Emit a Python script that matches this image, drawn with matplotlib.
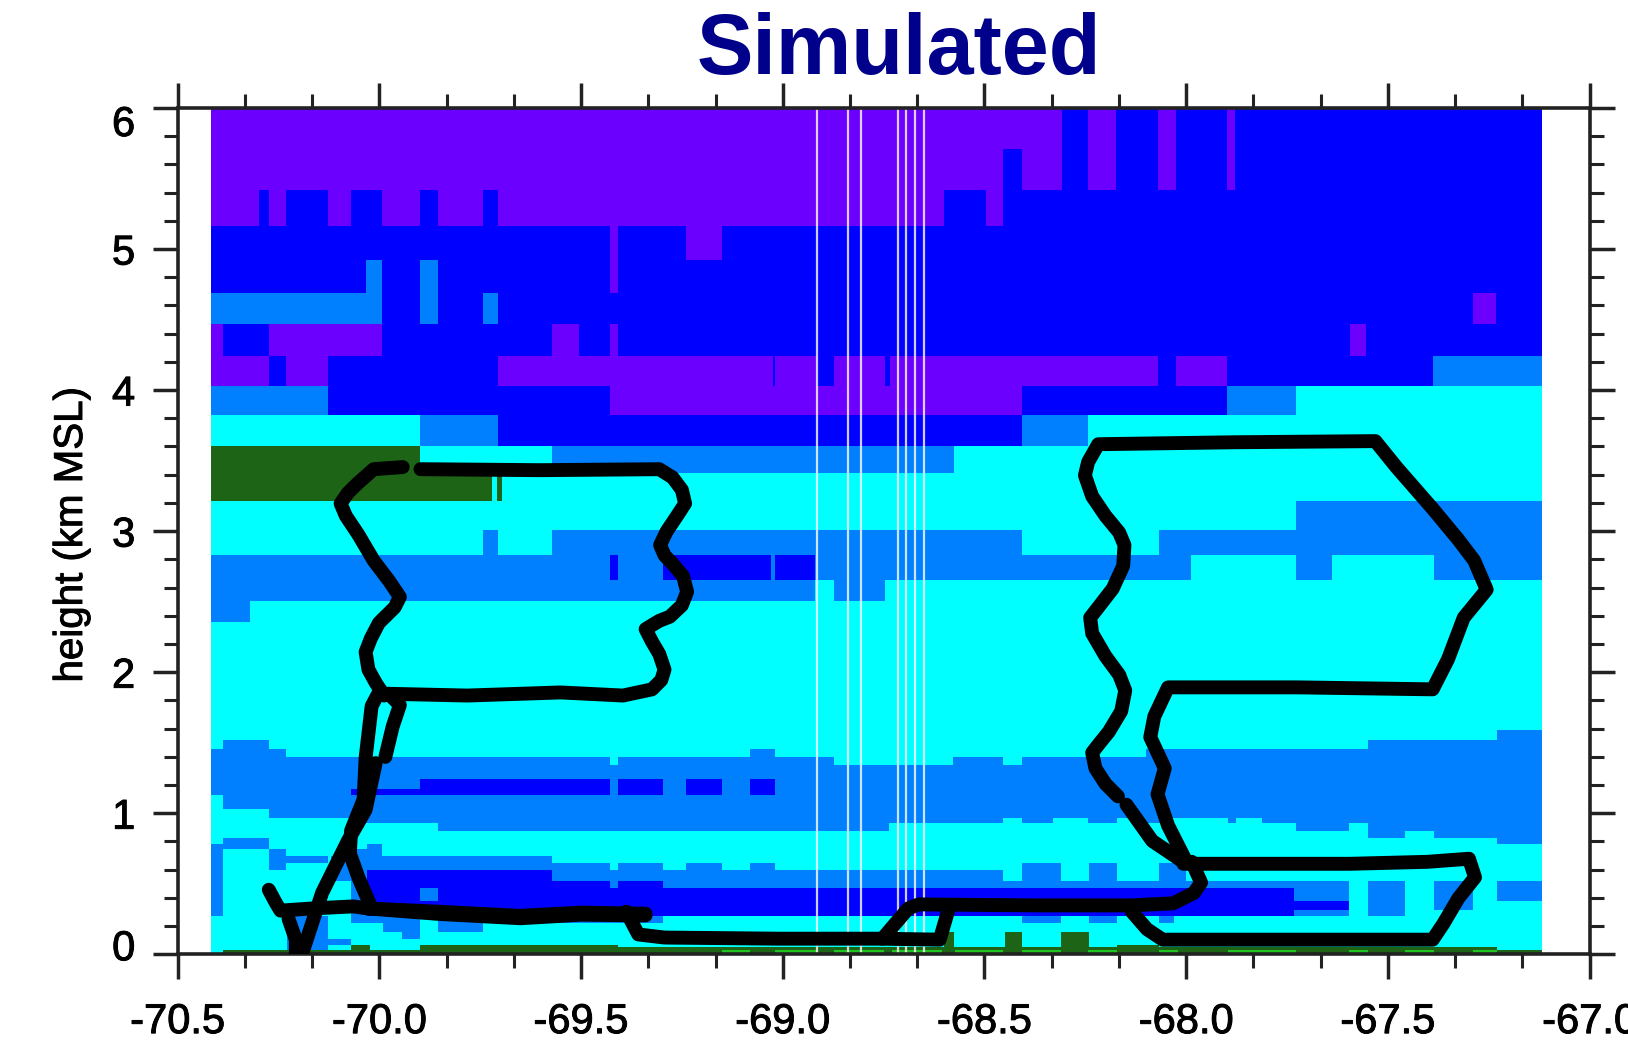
import matplotlib
matplotlib.use("Agg")
import matplotlib.pyplot as plt
import matplotlib.patheffects as pe
from matplotlib.transforms import ScaledTranslation
import numpy as np
from matplotlib.colors import ListedColormap, BoundaryNorm
from matplotlib.ticker import MultipleLocator

# Echo classes of the simulated field
C, A, B, V, G, L = 0, 1, 2, 3, 4, 5
class_colors = ["#00FFFF", "#0080FF", "#0000FF", "#6C00FF", "#1E6416", "#1FC41F"]

lon_start = -70.418
E = -67.119

# Lower edge (km) of each horizontal band, top band first. Top of first band is 6.
band_bottoms = [5.71, 5.42, 5.16, 4.92, 4.69, 4.47, 4.24, 4.03, 3.82, 3.60, 3.41, 3.21,
                3.01, 2.83, 2.655, 2.507, 2.359, 1.59, 1.519, 1.458, 1.398, 1.339, 1.239, 1.172,
                1.129, 1.03, 0.969, 0.927, 0.874, 0.827, 0.784, 0.743, 0.696, 0.647, 0.60, 0.517,
                0.469, 0.374, 0.313, 0.27, 0.22, 0.16, 0.11, 0.065, 0.05, 0.03, 0.012, 0.0]

# For each band: (class, longitude where this class stops), west to east
band_runs = [
    [(V,-68.309),(B,-68.243),(V,-68.173),(B,-68.069),(V,-68.024),(B,-67.9),(V,-67.88),(B,E)],
    [(V,-68.453),(B,-68.407),(V,-68.309),(B,-68.243),(V,-68.173),(B,-68.069),(V,-68.024),(B,-67.9),(V,-67.88),(B,E)],
    [(V,-70.299),(B,-70.273),(V,-70.231),(B,-70.126),(V,-70.069),(B,-69.993),(V,-69.899),(B,-69.855),(V,-69.742),(B,-69.707),(V,-68.6),(B,-68.496),(V,-68.453),(B,E)],
    [(B,-69.427),(V,-69.408),(B,-69.241),(V,-69.15),(B,E)],
    [(B,-70.034),(A,-69.993),(B,-69.899),(A,-69.855),(B,-69.427),(V,-69.408),(B,E)],
    [(A,-69.993),(B,-69.899),(A,-69.855),(B,-69.742),(A,-69.707),(B,-67.29),(V,-67.231),(B,E)],
    [(V,-70.387),(B,-70.273),(V,-69.993),(B,-69.573),(V,-69.505),(B,-69.427),(V,-69.408),(B,-67.594),(V,-67.554),(B,E)],
    [(V,-70.273),(B,-70.231),(V,-70.126),(B,-69.707),(V,-69.025),(B,-69.018),(V,-68.916),(B,-68.874),(V,-68.746),(B,-68.733),(V,-68.069),(B,-68.024),(V,-67.9),(B,-67.387),(A,E)],
    [(A,-70.126),(B,-69.427),(V,-68.407),(B,-67.9),(A,-67.728),(C,E)],
    [(C,-69.899),(A,-69.707),(B,-68.407),(A,-68.243),(C,E)],
    [(G,-69.899),(C,-69.573),(A,-68.576),(C,E)],
    [(G,-69.72),(C,-69.708),(G,-69.696),(C,E)],
    [(C,-67.728),(A,E)],
    [(C,-69.742),(A,-69.707),(C,-69.573),(A,-68.408),(C,-68.067),(A,E)],
    [(A,-69.427),(B,-69.408),(A,-69.296),(B,-69.028),(A,-69.018),(B,-68.919),(A,-67.989),(C,-67.727),(A,-67.638),(C,-67.386),(A,E)],
    [(A,-68.919),(C,-68.874),(A,-68.746),(C,E)],
    [(A,-70.32),(C,E)],
    [(C,E)],
    [(C,-67.229),(A,E)],
    [(C,-70.387),(A,-70.273),(C,-67.55),(A,E)],
    [(A,-70.231),(C,-69.082),(A,-69.018),(C,-68.1),(A,E)],
    [(A,-69.427),(C,-69.408),(A,-68.874),(C,-68.579),(A,-68.454),(C,-68.408),(A,E)],
    [(A,E)],
    [(A,-69.899),(B,-69.427),(A,-69.408),(B,-69.296),(A,-69.239),(B,-69.15),(A,-69.082),(B,-69.018),(A,E)],
    [(A,-70.069),(B,-69.427),(A,-69.408),(B,-69.296),(A,-69.239),(B,-69.15),(A,-69.082),(B,-69.018),(A,E)],
    [(C,-70.387),(A,E)],
    [(C,-70.273),(A,E)],
    [(C,-70.04),(A,-68.454),(C,-68.408),(A,-68.33),(C,-68.244),(A,-68.172),(C,-68.12),(A,-68.041),(C,-67.897),(A,-67.877),(C,-67.812),(A,E)],
    [(C,-69.855),(A,-68.736),(C,-67.727),(A,-67.596),(C,-67.55),(A,E)],
    [(C,-67.55),(A,-67.458),(C,-67.386),(A,E)],
    [(C,-70.387),(A,-70.273),(C,-67.229),(A,E)],
    [(A,-70.273),(C,-70.03),(A,-69.993),(C,E)],
    [(A,-70.387),(C,-70.273),(A,-70.231),(C,-70.08),(A,-69.993),(C,E)],
    [(A,-70.387),(C,-70.273),(A,-70.126),(C,-70.12),(A,-69.573),(C,E)],
    [(A,-70.387),(C,-70.273),(A,-70.231),(C,-70.12),(A,-69.427),(C,-69.408),(A,-69.296),(C,-69.239),(A,-69.15),(C,-69.082),(A,-69.018),(C,-68.408),(A,-68.31),(C,-68.24),(A,-68.172),(C,-68.067),(A,-68.015),(C,E)],
    [(A,-70.387),(C,-70.12),(A,-70.03),(B,-69.573),(A,-68.454),(C,-68.408),(A,-68.31),(C,-68.24),(A,-68.172),(C,-68.067),(A,-68.0),(C,E)],
    [(A,-70.387),(C,-70.07),(A,-70.03),(B,-69.427),(A,-69.408),(B,-69.296),(A,-67.596),(C,-67.55),(A,-67.458),(C,-67.386),(A,-67.288),(C,-67.229),(A,E)],
    [(A,-70.387),(C,-70.069),(A,-70.03),(B,-69.899),(A,-69.855),(B,-67.733),(A,-67.596),(C,-67.55),(A,-67.458),(C,-67.386),(A,-67.288),(C,-67.229),(A,E)],
    [(A,-70.387),(C,-70.069),(A,-70.03),(B,-67.596),(C,-67.55),(A,-67.458),(C,-67.386),(A,-67.288),(C,E)],
    [(A,-70.387),(C,-70.069),(A,-70.03),(B,-67.733),(A,-67.596),(C,-67.55),(A,-67.458),(C,E)],
    [(C,-70.23),(A,-70.126),(C,-70.069),(A,-69.899),(C,-69.855),(A,-69.742),(C,-69.707),(A,-69.296),(C,-68.408),(A,-68.31),(C,-68.24),(A,-68.172),(C,-68.067),(A,-68.03),(C,E)],
    [(C,-70.23),(A,-70.126),(C,-69.99),(A,-69.899),(C,-69.855),(A,-69.742),(C,E)],
    [(C,-70.23),(A,-70.126),(C,-69.945),(A,-69.899),(C,-68.6),(G,-68.575),(C,-68.45),(G,-68.408),(C,-68.31),(G,-68.24),(C,E)],
    [(C,-70.23),(A,-70.07),(C,-68.6),(G,-68.575),(C,-68.45),(G,-68.408),(C,-68.31),(G,-68.24),(C,E)],
    [(C,-70.23),(A,-70.126),(C,-70.069),(G,-70.022),(C,-69.899),(G,-69.408),(C,-68.6),(G,-68.575),(C,-68.45),(G,-68.408),(C,-68.31),(G,-68.24),(C,-68.172),(G,-68.067),(C,E)],
    [(C,-70.23),(A,-70.126),(C,-70.069),(G,-70.022),(C,-69.899),(G,-67.229),(C,E)],
    [(C,-70.387),(G,-69.15),(L,-69.082),(G,-69.018),(L,-68.916),(G,-68.874),(L,-68.749),(G,-68.729),(L,-68.605),(G,-68.572),(L,-68.454),(G,-68.408),(L,-68.31),(G,-68.244),(L,-68.172),(G,-68.067),(L,-68.02),(G,-67.897),(L,-67.727),(G,-67.596),(L,-67.55),(G,-67.458),(L,-67.386),(G,-67.288),(L,-67.229),(G,E)],
    [(C,-70.387),(G,E)],
]

# Columns with no data, they show as thin white lines
missing_lons = [-68.915, -68.838, -68.807, -68.714, -68.694, -68.673, -68.65]

# Flight track pieces (lon, height km)
track_low_left = [(-70.274,0.457),(-70.256,0.361),(-70.245,0.309),(-70.168,0.324),(-70.065,0.339),(-70.027,0.324),
                  (-69.859,0.302),(-69.653,0.272),(-69.499,0.295),(-69.34,0.287)]
track_low_left2 = [(-70.03,0.325),(-69.85,0.285),(-69.65,0.255),(-69.5,0.28),(-69.34,0.275)]
track_leg_up = [(-70.021,0.339),(-70.052,0.545),(-70.073,0.714),(-70.07,0.876),(-70.039,1.097),(-70.034,1.392),
                (-70.019,1.76),(-70.001,1.856)]
track_climb = [(-70.225,0.25),(-70.207,0.103),(-70.207,0.007),(-70.191,0.007),(-70.142,0.434),(-70.078,0.803),
               (-70.034,1.024),(-70.009,1.355)]
track_climb2 = [(-69.985,1.399),(-69.967,1.613),(-69.949,1.767),(-69.975,1.841)]
track_west_box = [(-70.001,1.848),(-69.782,1.834),(-69.551,1.856),(-69.396,1.834),(-69.324,1.878),(-69.301,1.944),
                  (-69.293,2.018),(-69.306,2.128),(-69.324,2.216),(-69.34,2.305),(-69.306,2.364),(-69.28,2.393),
                  (-69.25,2.474),(-69.237,2.57),(-69.247,2.68),(-69.273,2.769),(-69.293,2.828),(-69.304,2.901),
                  (-69.288,2.997),(-69.262,3.108),(-69.242,3.196),(-69.25,3.292),(-69.273,3.38),(-69.306,3.439),
                  (-69.602,3.432),(-69.898,3.439)]
track_west_box2 = [(-69.942,3.454),(-70.014,3.439),(-70.052,3.343),(-70.078,3.27),(-70.096,3.196),(-70.083,3.108),
                   (-70.052,2.975),(-70.014,2.791),(-69.975,2.644),(-69.949,2.533),(-69.962,2.459),(-70.001,2.349),
                   (-70.021,2.239),(-70.034,2.143),(-70.027,2.018),(-70.008,1.92),(-69.988,1.834)]
track_middle = [(-69.388,0.302),(-69.358,0.14),(-69.293,0.118),(-69.01,0.11),(-68.753,0.11),(-68.689,0.324),
                (-68.663,0.353),(-68.367,0.346),(-68.135,0.346),(-68.032,0.361),(-67.981,0.434),(-67.963,0.508),
                (-67.986,0.655)]
track_spur = [(-68.753,0.11),(-68.611,0.103),(-68.586,0.346)]
track_east_low = [(-68.007,0.641),(-67.595,0.641),(-67.402,0.655),(-67.299,0.677),(-67.284,0.545),(-67.325,0.398),
                  (-67.363,0.214),(-67.389,0.103),(-68.058,0.103),(-68.097,0.177),(-68.135,0.302)]
track_east_box = [(-68.002,0.67),(-68.045,0.913),(-68.071,1.134),(-68.053,1.318),(-68.089,1.539),(-68.079,1.686),
                  (-68.045,1.892),(-67.724,1.892),(-67.389,1.878),(-67.351,2.091),(-67.312,2.386),(-67.255,2.585),
                  (-67.286,2.791),(-67.325,2.938),(-67.389,3.159),(-67.479,3.454),(-67.531,3.638),(-67.878,3.63),
                  (-68.218,3.616),(-68.243,3.49),(-68.251,3.395),(-68.233,3.247),(-68.2,3.108),(-68.166,2.99),
                  (-68.153,2.901),(-68.156,2.754),(-68.182,2.592),(-68.218,2.459),(-68.238,2.386),(-68.233,2.275),
                  (-68.2,2.113),(-68.166,1.981),(-68.151,1.87),(-68.161,1.723),(-68.192,1.576),(-68.213,1.502),
                  (-68.233,1.429),(-68.225,1.318),(-68.2,1.208),(-68.169,1.119)]
track_east_box2 = [(-68.148,1.06),(-68.084,0.803),(-68.007,0.655)]
track_pieces = [track_low_left, track_low_left2, track_leg_up, track_climb, track_climb2, track_west_box, track_west_box2,
                track_middle, track_spur, track_east_low, track_east_box, track_east_box2]

x_ticks = [-70.5, -70.0, -69.5, -69.0, -68.5, -68.0, -67.5, -67.0]
y_ticks = [0, 1, 2, 3, 4, 5, 6]

plt.rcParams["font.family"] = ["Liberation Sans", "DejaVu Sans"]


def build_grid():
    # Turn the runs into a 2D array on the union of all the break longitudes
    x_edges = {lon_start}
    for runs in band_runs:
        for cls, stop in runs:
            x_edges.add(stop)
    x_edges = np.array(sorted(x_edges))
    y_edges = np.array([6.0] + band_bottoms)
    x_mid = (x_edges[:-1] + x_edges[1:]) / 2
    grid = np.zeros((len(band_runs), len(x_mid)))
    for i, runs in enumerate(band_runs):
        start = lon_start
        for cls, stop in runs:
            grid[i, (x_mid > start) & (x_mid < stop)] = cls
            start = stop
    return x_edges, y_edges, grid


W, H = 1628, 1047
fig = plt.figure(figsize=(W / 100, H / 100), dpi=100)
ax = fig.add_axes([177.6 / W, 1 - 954.2 / H, (1589.6 - 177.6) / W, (954.2 - 108.0) / H])

x_edges, y_edges, grid = build_grid()
cmap = ListedColormap(class_colors)
norm = BoundaryNorm(np.arange(-0.5, 6.5), cmap.N)
ax.pcolormesh(x_edges, y_edges, grid, cmap=cmap, norm=norm, shading="flat", antialiased=False, linewidth=0)

for lon in missing_lons:
    ax.plot([lon, lon], [0, 6], color="white", lw=1.6, alpha=0.8, zorder=2, solid_capstyle="butt")

for piece in track_pieces:
    lons = [p[0] for p in piece]
    hgts = [p[1] for p in piece]
    ax.plot(lons, hgts, color="black", lw=10.0, zorder=3, solid_capstyle="round", solid_joinstyle="round", clip_on=True)

ax.set_xlim(-70.5, -67.0)
ax.set_ylim(0, 6)
ax.set_xticks(x_ticks)
ax.set_xticklabels(["%.1f" % v for v in x_ticks])
ax.set_yticks(y_ticks)
ax.xaxis.set_minor_locator(MultipleLocator(1 / 6))
ax.yaxis.set_minor_locator(MultipleLocator(0.2))
ax.tick_params(which="major", direction="out", top=True, right=True, length=18, width=2.5, color="#222222", labelsize=30, labelcolor="black")
ax.tick_params(which="minor", direction="out", top=True, right=True, length=10, width=2.2, color="#222222")
ax.tick_params(axis="x", which="major", pad=16.5)
ax.tick_params(axis="y", which="major", pad=12.5)
for spine in ax.spines.values():
    spine.set_linewidth(2.6)
    spine.set_color("#222222")

# Reference text is a bit heavier than plain Liberation Sans
heavier = [pe.withStroke(linewidth=0.7, foreground="black")]
for label in ax.get_xticklabels() + ax.get_yticklabels():
    label.set_path_effects(heavier)

# The end labels on the height axis sit inside the axis range
y_labels = ax.get_yticklabels()
y_labels[0].set_transform(y_labels[0].get_transform() + ScaledTranslation(0, 9.5 / 100, fig.dpi_scale_trans))
y_labels[-1].set_transform(y_labels[-1].get_transform() + ScaledTranslation(0, -12.5 / 100, fig.dpi_scale_trans))

fig.text(899 / W, 1 - 74 / H, "Simulated", color="#00008B", fontsize=61, fontweight="bold", ha="center", va="baseline")
fig.text(71 / W, 1 - 535 / H, "height (km MSL)", color="black", fontsize=29, rotation=90, ha="center", va="center",
         path_effects=heavier)
# Only the tops of this label are inside the picture
fig.text(883 / W, 1 - 1048 / H, "longitude", color="black", fontsize=30, ha="center", va="top")

fig.savefig("out.png", dpi=100)
